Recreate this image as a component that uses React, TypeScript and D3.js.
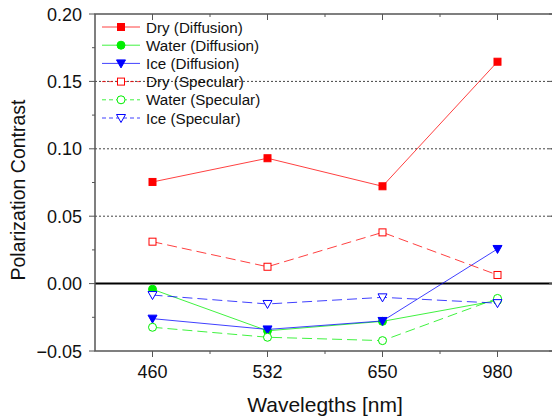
import React, { useEffect, useRef } from "react";
import * as d3 from "d3";

const categories = ["460", "532", "650", "980"];
const yTicks = [-0.05, 0.0, 0.05, 0.1, 0.15, 0.2];
const gridValues = [0.05, 0.1, 0.15];

const dryDiffusion = [0.0754, 0.093, 0.0722, 0.1646];
const waterDiffusion = [-0.0042, -0.035, -0.028, -0.0125];
const iceDiffusion = [-0.026, -0.034, -0.0277, 0.0257];
const drySpecular = [0.0311, 0.0125, 0.038, 0.0064];
const waterSpecular = [-0.0324, -0.0398, -0.0423, -0.011];
const iceSpecular = [-0.0085, -0.0151, -0.0102, -0.0145];

type Series = { name: string; values: number[]; color: string; marker: string; filled: boolean; dashed: boolean };

const series: Series[] = [
  { name: "Dry (Diffusion)", values: dryDiffusion, color: "#ff0000", marker: "square", filled: true, dashed: false },
  { name: "Water (Diffusion)", values: waterDiffusion, color: "#00ee00", marker: "circle", filled: true, dashed: false },
  { name: "Ice (Diffusion)", values: iceDiffusion, color: "#0000ff", marker: "triangle", filled: true, dashed: false },
  { name: "Dry (Specular)", values: drySpecular, color: "#ff0000", marker: "square", filled: false, dashed: true },
  { name: "Water (Specular)", values: waterSpecular, color: "#00ee00", marker: "circle", filled: false, dashed: true },
  { name: "Ice (Specular)", values: iceSpecular, color: "#0000ff", marker: "triangle", filled: false, dashed: true },
];

function drawMarker(g: any, type: string, cx: number, cy: number, color: string, filled: boolean) {
  const fill = filled ? color : "white";
  if (type === "square") {
    g.append("rect").attr("x", cx - 3.5).attr("y", cy - 3.5).attr("width", 7).attr("height", 7)
      .attr("fill", fill).attr("stroke", color).attr("stroke-width", 1);
  } else if (type === "circle") {
    g.append("circle").attr("cx", cx).attr("cy", cy).attr("r", 4)
      .attr("fill", fill).attr("stroke", color).attr("stroke-width", 1);
  } else {
    const p = d3.path();
    p.moveTo(cx - 4.5, cy - 3.5);
    p.lineTo(cx + 4.5, cy - 3.5);
    p.lineTo(cx, cy + 4.5);
    p.closePath();
    g.append("path").attr("d", p.toString()).attr("fill", fill).attr("stroke", color).attr("stroke-width", 1);
  }
}

export default function App() {
  const ref = useRef<SVGSVGElement>(null);
  useEffect(() => {
    const svg = d3.select(ref.current);
    svg.selectAll("*").remove();
    const font = "'Liberation Sans', Arial, sans-serif";
    const x = d3.scaleLinear().domain([0.5, 4.5]).range([95, 555]);
    const y = d3.scaleLinear().domain([-0.05, 0.2]).range([351, 14]);
    const L = 95, R = 555, T = 14, B = 351;

    // gridlines
    gridValues.forEach((v) => {
      svg.append("line").attr("x1", L).attr("x2", R).attr("y1", y(v)).attr("y2", y(v))
        .attr("stroke", "#444").attr("stroke-width", 1).attr("stroke-dasharray", "2,2");
    });
    svg.append("line").attr("x1", L).attr("x2", R).attr("y1", y(0)).attr("y2", y(0))
      .attr("stroke", "#000").attr("stroke-width", 2);

    // frame
    const axisColor = "#555";
    svg.append("rect").attr("x", L).attr("y", T).attr("width", R - L).attr("height", B - T)
      .attr("fill", "none").attr("stroke", axisColor).attr("stroke-width", 1.5);

    // y ticks
    const yMinor = d3.range(-0.05, 0.2001, 0.025);
    yMinor.forEach((v, i) => {
      const major = i % 2 === 0;
      const len = major ? 6 : 3;
      svg.append("line").attr("x1", L - len).attr("x2", L).attr("y1", y(v)).attr("y2", y(v))
        .attr("stroke", axisColor).attr("stroke-width", 1);
      svg.append("line").attr("x1", R - len).attr("x2", R).attr("y1", y(v)).attr("y2", y(v))
        .attr("stroke", axisColor).attr("stroke-width", 1);
    });
    yTicks.forEach((v) => {
      svg.append("text").attr("x", 82).attr("y", y(v) + 6.5).attr("text-anchor", "end")
        .attr("font-family", font).attr("font-size", 18).attr("fill", "#111").text(d3.format(".2f")(v));
    });

    // x ticks
    for (let k = 1; k <= 4.5; k += 0.5) {
      const major = Number.isInteger(k);
      const len = major ? 6 : 3;
      svg.append("line").attr("x1", x(k)).attr("x2", x(k)).attr("y1", B).attr("y2", B + len)
        .attr("stroke", axisColor).attr("stroke-width", 1);
      svg.append("line").attr("x1", x(k)).attr("x2", x(k)).attr("y1", T).attr("y2", T + len)
        .attr("stroke", axisColor).attr("stroke-width", 1);
    }
    categories.forEach((c, i) => {
      svg.append("text").attr("x", x(i + 1)).attr("y", 378).attr("text-anchor", "middle")
        .attr("font-family", font).attr("font-size", 18).attr("fill", "#111").text(c);
    });

    // axis titles
    svg.append("text").attr("x", 325).attr("y", 412).attr("text-anchor", "middle")
      .attr("font-family", font).attr("font-size", 21).attr("fill", "#111").text("Wavelegths [nm]");
    svg.append("text").attr("transform", "translate(25,190) rotate(-90)").attr("text-anchor", "middle")
      .attr("font-family", font).attr("font-size", 19.5).attr("fill", "#111").text("Polarization Contrast");

    // series
    const line = d3.line<number>().x((_, i) => x(i + 1)).y((d) => y(d));
    series.forEach((s) => {
      const g = svg.append("g");
      g.append("path").attr("d", line(s.values)).attr("fill", "none").attr("stroke", s.color)
        .attr("stroke-opacity", 0.75).attr("stroke-width", 1)
        .attr("stroke-dasharray", s.dashed ? "10,5" : null);
      s.values.forEach((v, i) => drawMarker(g, s.marker, x(i + 1), y(v), s.color, s.filled));
    });

    // legend
    series.forEach((s, i) => {
      const ly = 27 + i * 18.2;
      const g = svg.append("g");
      g.append("line").attr("x1", 102).attr("x2", 140).attr("y1", ly).attr("y2", ly)
        .attr("stroke", s.color).attr("stroke-opacity", 0.75).attr("stroke-width", 1)
        .attr("stroke-dasharray", s.dashed ? "4,3" : null);
      drawMarker(g, s.marker, 121, ly, s.color, s.filled);
      g.append("text").attr("x", 146).attr("y", ly + 5.5).attr("font-family", font).attr("font-size", 15.2)
        .attr("fill", "#111").text(s.name);
    });
  }, []);
  return (
    <svg ref={ref} width={552} height={420} style={{ position: "absolute", left: 0, top: 0, background: "white" }} />
  );
}
